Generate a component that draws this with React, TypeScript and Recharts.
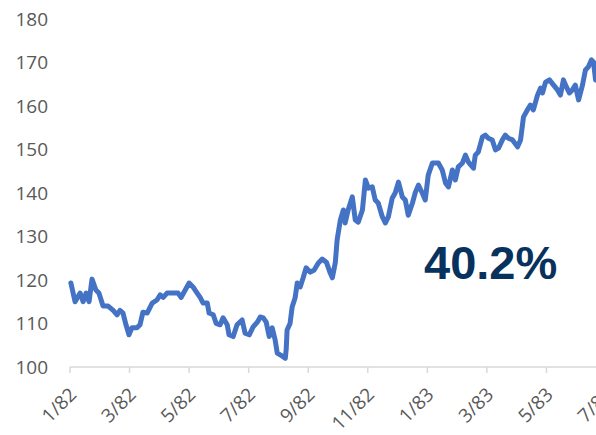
import { LineChart, Line, XAxis, YAxis } from "recharts";

// time in months since Jan 1982 (0 = 1/82)
const months = [
  0.03, 0.17, 0.34, 0.44, 0.54, 0.64, 0.74, 0.87, 0.97, 1.11, 1.28, 1.45, 1.58, 1.68, 1.78, 1.88, 1.98,
  2.08, 2.25, 2.35, 2.45, 2.59, 2.76, 2.92, 3.03, 3.13, 3.26, 3.46, 3.63, 3.73, 3.87, 4.0, 4.13, 4.27,
  4.37, 4.47, 4.61, 4.67, 4.81, 4.91, 5.04, 5.14, 5.28, 5.34, 5.48, 5.61, 5.78, 5.88, 6.02, 6.15, 6.29,
  6.39, 6.49, 6.59, 6.69, 6.79, 6.89, 6.96, 7.13, 7.23, 7.26, 7.29, 7.39, 7.46, 7.56, 7.63, 7.73, 7.83,
  7.93, 8.07, 8.2, 8.34, 8.47, 8.61, 8.74, 8.81, 8.91, 8.97, 9.08, 9.18, 9.24, 9.34, 9.48, 9.58, 9.68,
  9.82, 9.92, 10.02, 10.15, 10.25, 10.35, 10.49, 10.59, 10.69, 10.82, 10.92, 11.03, 11.16, 11.26, 11.36,
  11.5, 11.6, 11.7, 11.83, 11.93, 12.03, 12.17, 12.37, 12.5, 12.61, 12.71, 12.84, 12.94, 13.04, 13.18,
  13.28, 13.38, 13.55, 13.61, 13.71, 13.85, 13.95, 14.05, 14.18, 14.29, 14.39, 14.52, 14.62, 14.72,
  14.86, 15.03, 15.13, 15.23, 15.36, 15.46, 15.56, 15.7, 15.8, 15.87, 15.97, 16.1, 16.24, 16.37, 16.47,
  16.57, 16.67, 16.77, 16.87, 16.97, 17.08, 17.21, 17.31, 17.41, 17.51, 17.58, 17.65,
];

const values = [
  119.3, 115, 117, 115, 117, 115, 120.2, 117.7, 117, 114, 114, 113, 112, 113, 112.4, 109.7, 107.4,
  109, 109, 109.7, 112.6, 112.4, 114.7, 115.4, 116.6, 116, 117, 117, 117, 116, 117.7, 119.3, 118.4, 117,
  116, 114.7, 114.7, 112.4, 112, 110, 109.7, 111.3, 109.7, 107.4, 107, 109.7, 110.8, 107.8, 107.4, 109.2, 110.3,
  111.5, 111.3, 110.3, 107, 109, 106.2, 103.2, 102.5, 102, 104, 108.5, 110, 113.8, 115.9, 119.3, 118.4, 120.5,
  122.8, 121.8, 122.3, 123.9, 124.8, 124.1, 121.6, 120.5, 124, 129.2, 133.8, 136.1, 133.1, 136.1, 139.1, 133.8, 133.3,
  136.1, 143, 141.1, 141.4, 138.4, 137.7, 134.5, 133.1, 134.5, 138.8, 140, 142.5, 139.1, 138.4, 134.9,
  137.7, 140.2, 141.8, 140, 138.4, 144.1, 146.9, 146.9, 145.3, 142.3, 141.4, 145.3, 143, 146, 146.9,
  148.7, 147.1, 145.7, 148.7, 149.4, 152.9, 153.3, 152.6, 152.2, 149.9, 150.3, 152.2, 153.3, 152.6,
  152.2, 150.6, 152.2, 157.5, 159.1, 160.2, 159.1, 162.5, 164.1, 163, 165.5, 166, 164.8, 163.7, 162.5,
  166, 164.4, 163, 163.7, 164.8, 161.4, 164.8, 168.3, 169, 170.6, 170.1, 166,
];

const tickMonths = [0, 2, 4, 6, 8, 10, 12, 14, 16, 18];
const tickLabels = ["1/82", "3/82", "5/82", "7/82", "9/82", "11/82", "1/83", "3/83", "5/83", "7/83"];
const yTicks = [100, 110, 120, 130, 140, 150, 160, 170, 180];
const annotation = "40.2%";

const data = months.map((m, i) => ({ m, v: values[i] }));

const AXIS_FONT = "'Open Sans', sans-serif";

const AngledTick = (props: any) => {
  const { x, y, payload } = props;
  const idx = tickMonths.indexOf(payload.value);
  const cx = x + 3;
  const cy = y + 12;
  return (
    <text
      x={cx}
      y={cy}
      dy="0.35em"
      textAnchor="end"
      transform={`rotate(-45 ${cx} ${cy})`}
      fill="#595959"
      fontSize={19}
      fontFamily={AXIS_FONT}
    >
      {tickLabels[idx]}
    </text>
  );
};

export default function App() {
  return (
    <div
      style={{
        position: "fixed",
        left: 0,
        top: 0,
        width: 596,
        height: 435,
        overflow: "hidden",
        background: "#fff",
      }}
    >
      <LineChart width={616} height={435} data={data} margin={{ top: 19, right: 10, bottom: 8, left: 0 }}>
        <XAxis
          dataKey="m"
          type="number"
          domain={[0, 18]}
          ticks={tickMonths}
          interval={0}
          height={60}
          stroke="#d9d9d9"
          strokeWidth={1.5}
          tickSize={6}
          tickMargin={6}
          tick={<AngledTick />}
        />
        <YAxis
          domain={[100, 180]}
          ticks={yTicks}
          width={70}
          axisLine={false}
          tickLine={false}
          tickSize={0}
          tickMargin={22}
          tick={{ fill: "#595959", fontSize: 19, fontFamily: AXIS_FONT }}
        />
        <Line
          dataKey="v"
          type="linear"
          stroke="#4472C4"
          strokeWidth={5}
          strokeLinejoin="round"
          strokeLinecap="round"
          dot={false}
          isAnimationActive={false}
        />
      </LineChart>
      <div
        style={{
          position: "absolute",
          left: 424,
          top: 239,
          fontFamily: "'Liberation Sans', Arial, sans-serif",
          fontWeight: "bold",
          fontSize: 47,
          color: "#07325E",
          lineHeight: 1,
        }}
      >
        {annotation}
      </div>
    </div>
  );
}
